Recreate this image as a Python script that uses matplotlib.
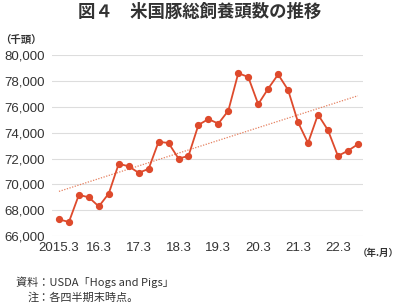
import numpy as np
import matplotlib.pyplot as plt

plt.rcParams['font.family'] = ['Liberation Sans', 'Noto Sans CJK JP', 'DejaVu Sans']

# quarterly total hog inventory (thousand head), 2015.3 - 2022.9
quarters = list(range(31))
heads = [67300, 67100, 69200, 69000, 68300, 69300, 71600, 71400, 70900, 71200,
         73300, 73200, 72000, 72200, 74600, 75050, 74700, 75700, 78600, 78300,
         76200, 77400, 78500, 77300, 74800, 73200, 75400, 74200, 72200, 72600,
         73100]
tick_pos = [0, 4, 8, 12, 16, 20, 24, 28]
tick_labels = ['2015.3', '16.3', '17.3', '18.3', '19.3', '20.3', '21.3', '22.3']
yticks = list(range(66000, 80001, 2000))

red = '#de4a2c'
txt = '#333333'

fig = plt.figure(figsize=(4, 3.04), dpi=100)
ax = fig.add_axes([0.13, 0.223, 0.777, 0.596])

ax.plot(quarters, heads, color=red, lw=1.3, marker='o', ms=4.2, zorder=3)

# linear trend line
k, b = np.polyfit(quarters, heads, 1)
ax.plot([quarters[0], quarters[-1]], [k * quarters[0] + b, k * quarters[-1] + b],
        color='#e58060', lw=0.9, ls=(0, (1, 1.2)), zorder=2)

ax.set_ylim(66000, 80000)
ax.set_xlim(-0.7, 30.5)
ax.set_yticks(yticks)
ax.set_yticklabels(['{:,}'.format(v) for v in yticks])
ax.set_xticks(tick_pos)
ax.set_xticklabels(tick_labels)
ax.grid(axis='y', color='#dddddd', lw=0.8)
ax.set_axisbelow(True)
for s in ax.spines.values():
    s.set_visible(False)
ax.tick_params(length=0, labelsize=9.5, colors=txt, pad=4)
ax.tick_params(axis='y', pad=5)

fig.text(0.5, 0.962, '図４　米国豚総飼養頭数の推移', ha='center', va='center',
         fontsize=12.5, fontweight='bold', color=txt, family=['Noto Sans CJK JP'])
fig.text(0.0, 0.87, '（千頭）', ha='left', va='center', fontsize=7.5,
         fontweight='bold', color=txt, family=['Noto Sans CJK JP'])
fig.text(0.997, 0.168, '（年.月）', ha='right', va='center', fontsize=6.8,
         fontweight='bold', color=txt, family=['Noto Sans CJK JP'])
fig.text(0.04, 0.072, '資料：USDA「Hogs and Pigs」', ha='left', va='center',
         fontsize=8, color=txt, family=['Noto Sans CJK JP'])
fig.text(0.07, 0.02, '注：各四半期末時点。', ha='left', va='center',
         fontsize=8, color=txt, family=['Noto Sans CJK JP'])

fig.savefig('out.png', dpi=100)
